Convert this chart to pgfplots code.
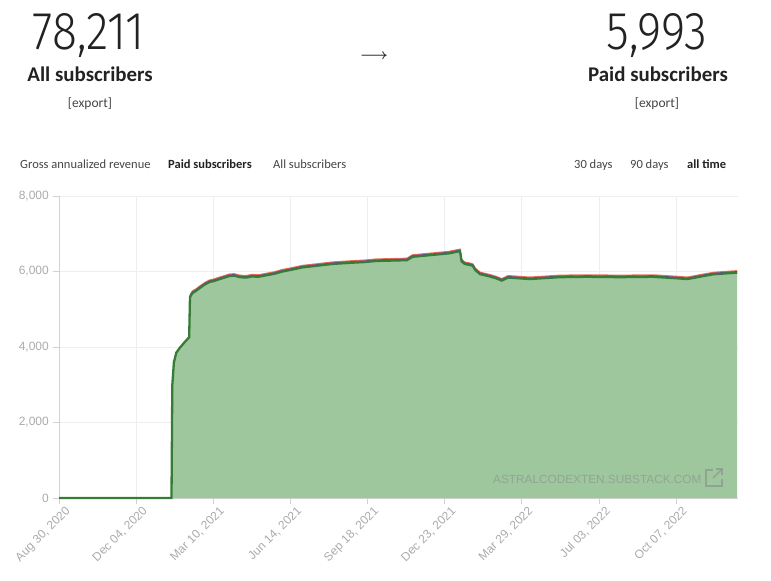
\documentclass[border=0pt]{standalone}
\usepackage{pgfplots}
\pgfplotsset{compat=1.18}
\usepackage{fontspec}
\setmainfont{Carlito}
\newfontfamily\arialf{Liberation Sans}
\newfontfamily\lightfont{Fira Sans Light}
\definecolor{fillgreen}{RGB}{158,199,158}
\definecolor{linegreen}{RGB}{54,124,54}
\definecolor{lpurple}{RGB}{128,60,170}
\definecolor{lred}{RGB}{230,110,90}
\definecolor{gridc}{RGB}{238,238,238}
\definecolor{axisc}{RGB}{210,210,210}
\definecolor{tickc}{RGB}{170,170,170}
\definecolor{txt}{RGB}{34,34,34}
\definecolor{tabc}{RGB}{68,68,68}

\pgfplotstableread{
x y
0 0
140 0
141 2990
143 3600
146 3850
150 3970
156 4120
162 4260
163 5320
166 5430
170 5480
175 5560
181 5650
187 5720
193 5750
200 5800
206 5840
212 5880
218 5890
225 5850
233 5840
240 5870
248 5860
258 5900
268 5940
278 6000
290 6050
303 6110
320 6150
340 6200
362 6230
380 6250
395 6280
415 6290
433 6300
440 6390
465 6440
485 6480
499 6540
501 6270
505 6200
512 6170
515 6150
518 6040
524 5930
530 5900
536 5870
544 5820
551 5760
559 5840
586 5800
623 5850
657 5860
698 5850
739 5860
769 5820
782 5800
802 5880
814 5925
830 5950
844 5970
}\paid

\pgfplotstableread{
x y
163 5345
166 5455
170 5505
175 5585
181 5675
187 5745
193 5775
200 5825
206 5865
212 5905
218 5915
225 5875
233 5865
240 5895
248 5885
258 5925
268 5965
278 6025
290 6075
303 6135
320 6175
340 6225
362 6255
380 6275
395 6305
415 6315
433 6325
440 6415
465 6465
485 6505
499 6565
501 6295
505 6225
512 6195
515 6175
518 6065
524 5955
530 5925
536 5895
544 5845
551 5785
559 5865
586 5825
623 5875
657 5885
698 5875
739 5885
769 5845
782 5825
802 5905
814 5950
830 5975
844 5995
}\purp

\pgfplotstableread{
x y
163 5370
166 5480
170 5530
175 5610
181 5700
187 5770
193 5800
200 5850
206 5890
212 5930
218 5940
225 5900
233 5890
240 5920
248 5910
258 5950
268 5990
278 6050
290 6100
303 6160
320 6200
340 6250
362 6280
380 6300
395 6330
415 6340
433 6350
440 6440
465 6490
485 6530
499 6590
501 6320
505 6250
512 6220
515 6200
518 6090
524 5980
530 5950
536 5920
544 5870
551 5810
559 5890
586 5850
623 5900
657 5910
698 5900
739 5910
769 5870
782 5850
802 5930
814 5975
830 6000
844 6020
}\allred

\begin{document}
\begin{tikzpicture}
\path[use as bounding box] (0,0) rectangle (771bp,-581bp);

% header
\node[anchor=base, inner sep=0pt, text=txt] at (89bp,-49bp)
  {\resizebox{112bp}{36bp}{\lightfont 78,211}};
\node[anchor=base, inner sep=0pt, text=txt] at (90bp,-81bp)
  {\fontsize{20.9bp}{24bp}\selectfont\bfseries All subscribers};
\node[anchor=base, inner sep=0pt, text=tabc] at (90bp,-107bp)
  {\fontsize{13.5bp}{16bp}\selectfont [export]};
\node[anchor=center, inner sep=0pt, text=txt] at (374bp,-57bp)
  {\resizebox{28bp}{!}{\boldmath$\longrightarrow$}};
\node[anchor=base, inner sep=0pt, text=txt] at (657bp,-49bp)
  {\resizebox{101bp}{36bp}{\lightfont 5,993}};
\node[anchor=base, inner sep=0pt, text=txt] at (658bp,-81bp)
  {\fontsize{20.9bp}{24bp}\selectfont\bfseries Paid subscribers};
\node[anchor=base, inner sep=0pt, text=tabc] at (657bp,-107bp)
  {\fontsize{13.5bp}{16bp}\selectfont [export]};

% tabs
\begin{scope}[every node/.style={inner sep=0pt, anchor=base west}]
\node[text=tabc] at (20bp,-168bp) {\fontsize{12.5bp}{15bp}\selectfont Gross annualized revenue};
\node[text=txt] at (168bp,-168bp) {\fontsize{12.5bp}{15bp}\selectfont\bfseries Paid subscribers};
\node[text=tabc] at (273bp,-168bp) {\fontsize{12.5bp}{15bp}\selectfont All subscribers};
\node[text=tabc] at (574bp,-168bp) {\fontsize{12.5bp}{15bp}\selectfont 30 days};
\node[text=tabc] at (630bp,-168bp) {\fontsize{12.5bp}{15bp}\selectfont 90 days};
\node[text=txt] at (687bp,-168bp) {\fontsize{12.5bp}{15bp}\selectfont\bfseries all time};
\end{scope}

\begin{axis}[
  at={(59bp,-498bp)}, anchor=south west,
  width=679bp, height=302bp, scale only axis,
  xmin=0, xmax=845, ymin=0, ymax=8000,
  axis x line=bottom, axis y line=left,
  axis line style={draw=axisc, -},
  tick align=outside, major tick length=6bp,
  tick style={draw=axisc, line width=0.8bp},
  grid=major, major grid style={draw=gridc, line width=0.8bp},
  ytick={0,2000,4000,6000,8000},
  xtick={0,96,192,288,384,480,576,672,768},
  xticklabels={{Aug 30, 2020},{Dec 04, 2020},{Mar 10, 2021},{Jun 14, 2021},{Sep 18, 2021},{Dec 23, 2021},{Mar 29, 2022},{Jul 03, 2022},{Oct 07, 2022}},
  /pgf/number format/assume math mode=true,
  /pgf/number format/1000 sep={,},
  ticklabel style={font=\arialf\fontsize{12bp}{14bp}\selectfont, text=tickc},
  xticklabel style={rotate=45, anchor=north east, inner sep=1bp, xshift=4bp, yshift=-4bp},
  yticklabel style={inner sep=2bp, xshift=-2bp},
  clip=false,
]
\addplot[draw=none, fill=fillgreen] table[x=x,y=y] {\paid} \closedcycle;
\addplot[lred, line width=1.3bp] table[x=x,y=y] {\allred};
\addplot[lpurple, line width=1.3bp] table[x=x,y=y] {\purp};
\addplot[linegreen, line width=2.3bp] table[x=x,y=y] {\paid};
\end{axis}

% watermark
\node[anchor=base west, inner sep=0pt, text=black!45, opacity=0.6] at (493bp,-483bp)
  {\arialf\fontsize{11.8bp}{14bp}\selectfont ASTRALCODEXTEN.SUBSTACK.COM};
\begin{scope}[draw=black!45, opacity=0.6, line width=1.4bp]
\draw (713bp,-470bp) -- (706bp,-470bp) -- (706bp,-486bp) -- (722bp,-486bp) -- (722bp,-479bp);
\draw (713bp,-478bp) -- (722bp,-469bp);
\draw (716bp,-469bp) -- (722bp,-469bp) -- (722bp,-475bp);
\end{scope}
\end{tikzpicture}
\end{document}
